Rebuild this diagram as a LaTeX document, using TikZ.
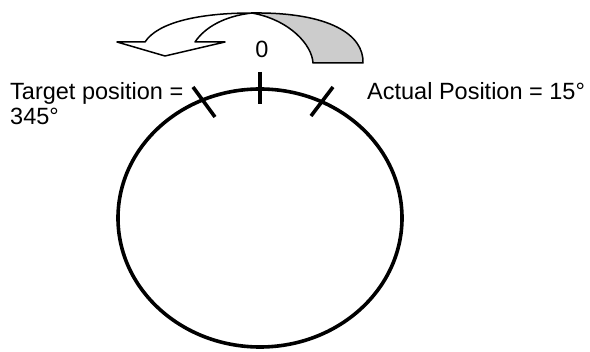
\documentclass[tikz,border=0pt]{standalone}
\usepackage{fontspec}
\setmainfont{Liberation Sans}
\usetikzlibrary{shapes.geometric, positioning, calc}
\definecolor{ribbongray}{RGB}{204,204,204}

\begin{document}
\begin{tikzpicture}[x=1pt, y=-1pt, font=\fontsize{23.5}{25}\selectfont,
    lbl/.style={inner sep=0pt, anchor=base west},
    tickline/.style={line width=3.6pt},
    ribbon/.style={draw, line width=1.5pt, line join=round}]
  \useasboundingbox (0,0) rectangle (590,352);

  % Dial
  \node[draw, ellipse, line width=3.6pt, minimum width=284pt, minimum height=258pt, inner sep=0pt] (dial) at (260,218) {};

  % Ticks on the dial
  \draw[tickline] (260,72) -- (260,104);
  \draw[tickline] (193,87) -- (215,117);
  \draw[tickline] (333,87) -- (311,116);

  % Labels
  \node[inner sep=0pt, anchor=base] (zero) at (262,58) {0};
  \node[lbl] (actual) at (367,100) {Actual Position = 15°};
  \node[align=left, inner sep=0pt, anchor=north west] (target) at (10,82) {Target position =\\345°};

  % Curved arrow, white part with head
  \draw[ribbon, fill=white] (145,42) -- (117,42) -- (165,56) -- (225,42) -- (195,42)
    .. controls (205,27) and (225,16) .. (252,13)
    .. controls (200,13) and (158,22) .. (145,42) -- cycle;
  % Curved arrow, grey part
  \draw[ribbon, fill=ribbongray] (252,13) .. controls (330,12) and (364,35) .. (363,63)
    -- (313,63) .. controls (312,45) and (290,20) .. (252,13) -- cycle;
\end{tikzpicture}
\end{document}
